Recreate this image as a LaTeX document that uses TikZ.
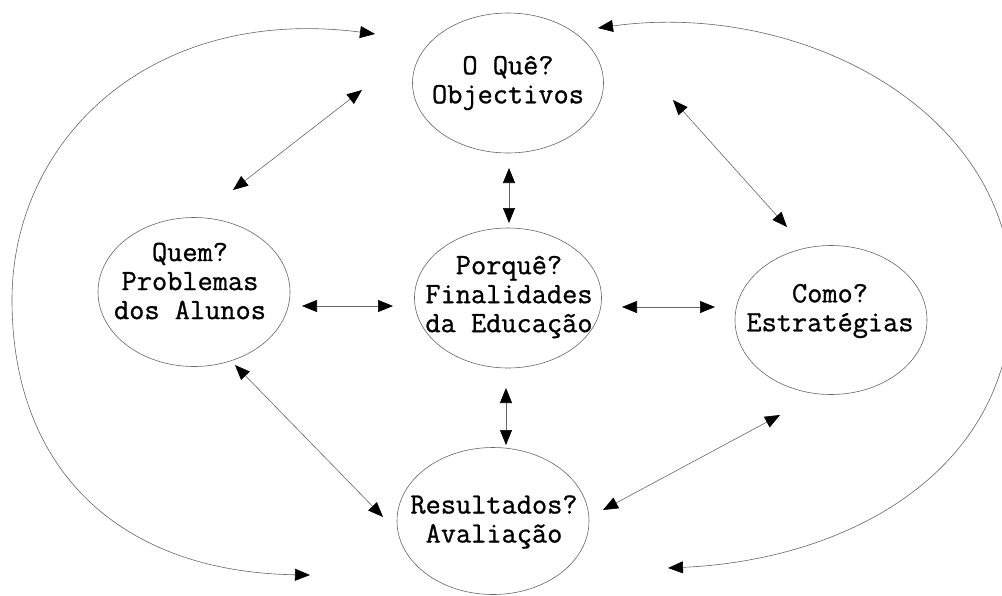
\documentclass[tikz,border=0pt]{standalone}
\usepackage{fontspec}
\newfontfamily\bubblefont{Latin Modern Mono}[FakeBold=0.9]
\usetikzlibrary{arrows.meta,shapes.geometric}
\tikzset{
  bubble/.style={ellipse,draw=black!60,line width=0.6pt,inner sep=0pt},
  txt/.style={font=\bubblefont\fontsize{29.5}{29}\selectfont,align=center,inner sep=0pt},
  link/.style={draw=black!60,line width=0.6pt,{Triangle[length=15pt,width=12pt,black]}-{Triangle[length=15pt,width=12pt,black]}},
}
\begin{document}
\begin{tikzpicture}[x=1pt,y=-1pt]
\useasboundingbox (0,0) rectangle (1002,595);
% bubbles
\node[bubble,minimum width=191pt,minimum height=140pt] (oque) at (508,83) {};
\node[bubble,minimum width=187pt,minimum height=140pt] (porque) at (508,298) {};
\node[bubble,minimum width=192pt,minimum height=149pt] (quem) at (194,292) {};
\node[bubble,minimum width=192pt,minimum height=149pt] (como) at (831,320) {};
\node[bubble,minimum width=192pt,minimum height=147pt] (result) at (493,521) {};
% texts
\node[txt] (toque) at (508,83) {O Quê?\\Objectivos};
\node[txt] (tporque) at (509,297) {Porquê?\\Finalidades\\da Educação};
\node[txt] (tquem) at (190,281) {Quem?\\Problemas\\dos Alunos};
\node[txt] (tcomo) at (830,311) {Como?\\Estratégias};
\node[txt] (tresult) at (494,522) {Resultados?\\Avaliação};
% arrow end points
\coordinate (a1) at (233,190); \coordinate (a2) at (362,90);
\coordinate (b1) at (509,168); \coordinate (b2) at (509,223);
\coordinate (c1) at (673,100); \coordinate (c2) at (787,227);
\coordinate (d1) at (302,306); \coordinate (d2) at (393,306);
\coordinate (e1) at (622,307); \coordinate (e2) at (715,307);
\coordinate (f1) at (506,388); \coordinate (f2) at (506,445);
\coordinate (g1) at (235,365); \coordinate (g2) at (383,517);
\coordinate (h1) at (780,415); \coordinate (h2) at (603,510);
\coordinate (l1) at (375,34); \coordinate (l2) at (310,575);
\coordinate (r1) at (598,28); \coordinate (r2) at (668,568);
% connectors
\draw[link] (a1) -- (a2);
\draw[link] (b1) -- (b2);
\draw[link] (c1) -- (c2);
\draw[link] (d1) -- (d2);
\draw[link] (e1) -- (e2);
\draw[link] (f1) -- (f2);
\draw[link] (g1) -- (g2);
\draw[link] (h1) -- (h2);
\draw[link] (l1) .. controls (150,5) and (12,140) .. (12,300) .. controls (12,470) and (120,572) .. (l2);
\draw[link] (r1) .. controls (800,0) and (1012,110) .. (1012,295) .. controls (1012,470) and (850,560) .. (r2);
\end{tikzpicture}
\end{document}
